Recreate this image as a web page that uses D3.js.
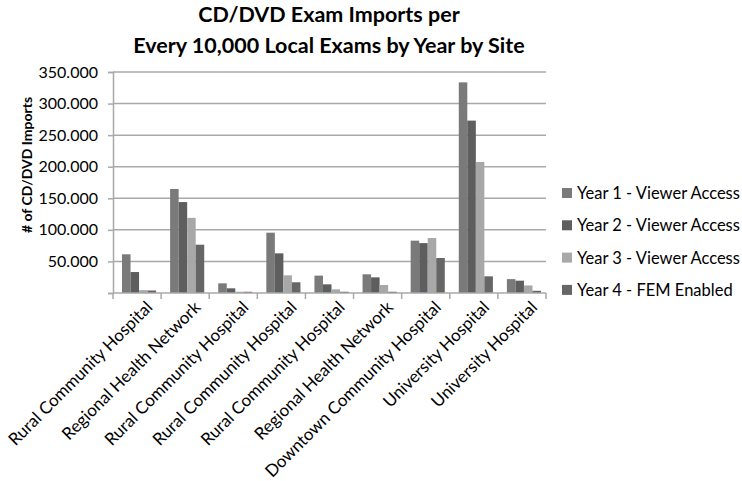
<!DOCTYPE html>
<html>
<head>
<meta charset="utf-8">
<script src="https://cdn.jsdelivr.net/npm/d3@7"></script>
<style>
  body { margin: 0; background: #ffffff; }
  svg { display: block; }
</style>
</head>
<body>
<svg id="chart" width="742" height="481"></svg>
<script>
// data
const sites = ["Rural Community Hospital", "Regional Health Network", "Rural Community Hospital",
	"Rural Community Hospital", "Rural Community Hospital", "Regional Health Network",
	"Downtown Community Hospital", "University Hospital", "University Hospital"];
const seriesNames = ["Year 1 - Viewer Access", "Year 2 - Viewer Access", "Year 3 - Viewer Access", "Year 4 - FEM Enabled"];
const year1 = [61.3, 164.7, 15.3, 95.5, 27.5, 29.6, 82.9, 333.6, 22.0];
const year2 = [33.2, 144.0, 7.4, 62.8, 13.7, 24.8, 79.0, 273.0, 19.5];
const year3 = [4.5, 119.0, 2.0, 28.0, 5.8, 12.7, 87.0, 207.5, 12.0];
const year4 = [4.0, 76.5, 2.0, 17.0, 2.0, 2.0, 55.4, 26.4, 3.5];
const yTicks = [0, 50, 100, 150, 200, 250, 300, 350];
const colors = ["#7a7a7a", "#5e5e5e", "#a8a8a8", "#666666"];

const series = [year1, year2, year3, year4];
const font = "Lato, 'Open Sans', sans-serif";
const gridColor = "#a9a9a9";
const textColor = "#000";

const svg = d3.select("#chart");
const plotLeft = 113, plotRight = 546, plotTop = 72, plotBottom = 293;

const x0 = d3.scaleBand().domain(d3.range(sites.length)).range([plotLeft, plotRight]);
const x1 = d3.scaleBand().domain(d3.range(series.length)).range([9, x0.bandwidth() - 5]);
const y = d3.scaleLinear().domain([0, 350]).range([plotBottom, plotTop]);

// gridlines
svg.append("g").selectAll("line").data(yTicks.filter(d => d > 0)).join("line")
	.attr("x1", plotLeft).attr("x2", plotRight)
	.attr("y1", d => y(d)).attr("y2", d => y(d))
	.attr("stroke", gridColor).attr("stroke-width", 1.5);

// y axis
const yAxis = svg.append("g").attr("transform", "translate(" + plotLeft + ",0)")
	.call(d3.axisLeft(y).tickValues(yTicks).tickSize(5).tickPadding(10)
		.tickFormat(d => d === 0 ? "" : d3.format(".3f")(d)));
yAxis.select(".domain").attr("stroke", gridColor).attr("stroke-width", 1.5);
yAxis.selectAll(".tick line").attr("stroke", gridColor).attr("stroke-width", 1.5);
yAxis.selectAll("text").attr("font-family", font).attr("font-size", 16).attr("fill", textColor);

// bars
const groups = svg.append("g").selectAll("g").data(sites.map((s, i) => i)).join("g")
	.attr("transform", i => "translate(" + x0(i) + ",0)");
groups.selectAll("rect").data(i => series.map((s, k) => ({k: k, v: s[i]}))).join("rect")
	.attr("x", d => x1(d.k))
	.attr("width", x1.bandwidth())
	.attr("y", d => y(d.v))
	.attr("height", d => plotBottom - y(d.v))
	.attr("fill", d => colors[d.k]);

// x axis
const xAxis = svg.append("g").attr("transform", "translate(0," + plotBottom + ")");
xAxis.append("line").attr("x1", plotLeft).attr("x2", plotRight)
	.attr("stroke", gridColor).attr("stroke-width", 1.5);
xAxis.selectAll(".xtick").data(d3.range(sites.length + 1)).join("line")
	.attr("class", "xtick")
	.attr("x1", i => plotLeft + i * x0.step()).attr("x2", i => plotLeft + i * x0.step())
	.attr("y1", 0).attr("y2", 6)
	.attr("stroke", gridColor).attr("stroke-width", 1.5);
xAxis.selectAll("text").data(sites).join("text")
	.attr("transform", (d, i) => "translate(" + (x0(i) + x0.bandwidth() / 2 + 8) + ",7) rotate(-45)")
	.attr("text-anchor", "end")
	.attr("dy", "0.7em")
	.attr("font-family", font).attr("font-size", 17).attr("fill", textColor)
	.text(d => d);

// y title
svg.append("text")
	.attr("transform", "translate(27,165) rotate(-90)")
	.attr("text-anchor", "middle").attr("dy", "0.35em")
	.attr("font-family", font).attr("font-size", 14).attr("font-weight", "bold").attr("fill", textColor)
	.text("# of CD/DVD Imports");

// title
const title = svg.append("text").attr("text-anchor", "middle")
	.attr("font-family", font).attr("font-size", 21.5).attr("font-weight", "bold").attr("fill", textColor);
title.append("tspan").attr("x", 329).attr("y", 22).text("CD/DVD Exam Imports per");
title.append("tspan").attr("x", 329).attr("y", 53).text("Every 10,000 Local Exams by Year by Site");

// legend
const legend = svg.append("g").attr("transform", "translate(562,193)");
const rows = legend.selectAll("g").data(seriesNames).join("g")
	.attr("transform", (d, i) => "translate(0," + i * 32.3 + ")");
rows.append("rect").attr("x", 0).attr("y", -5).attr("width", 10).attr("height", 10)
	.attr("fill", (d, i) => colors[i]);
rows.append("text").attr("x", 15).attr("dy", "0.36em")
	.attr("font-family", font).attr("font-size", 16.5).attr("fill", textColor)
	.text(d => d);
</script>
</body>
</html>
